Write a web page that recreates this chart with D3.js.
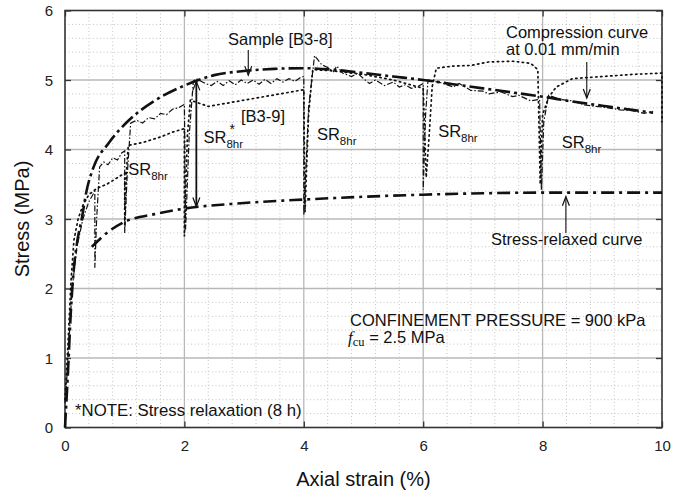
<!DOCTYPE html>
<html>
<head>
<meta charset="utf-8">
<script src="https://cdn.jsdelivr.net/npm/d3@7"></script>
<style>
  html, body { margin: 0; padding: 0; background: #fff; }
  svg { display: block; font-family: "Liberation Sans", Arial, sans-serif; }
</style>
</head>
<body>
<svg id="chart" width="685" height="495"></svg>
<script>
// Axis ranges and tick labels
const xTicks = [0, 2, 4, 6, 8, 10];
const yTicks = [0, 1, 2, 3, 4, 5, 6];

// Compression curve at 0.01 mm/min (envelope)
const compressionCurve = [
  [0, 0], [0.05, 0.8], [0.1, 1.7], [0.15, 2.3], [0.2, 2.65], [0.28, 3.0], [0.36, 3.4],
  [0.48, 3.75], [0.73, 4.09], [1.07, 4.42], [1.5, 4.7], [2.0, 4.92], [2.5, 5.07],
  [3.0, 5.13], [3.5, 5.16], [4.0, 5.17], [4.6, 5.14], [5.0, 5.1], [5.5, 5.05],
  [6.0, 5.0], [6.5, 4.94], [7.0, 4.88], [7.5, 4.82], [8.0, 4.76], [8.5, 4.69],
  [9.0, 4.63], [9.5, 4.57], [9.85, 4.53]
];

// Stress-relaxed curve
const relaxedCurve = [
  [0.45, 2.6], [0.7, 2.8], [1.0, 2.96], [1.5, 3.07], [2.0, 3.15], [3.0, 3.23],
  [4.0, 3.28], [5.0, 3.32], [6.0, 3.35], [7.0, 3.37], [8.0, 3.38], [9.0, 3.38], [10.0, 3.38]
];

// Sample [B3-8], with 8 h stress relaxation stages
const sampleB38 = [
  [0, 0.35], [0.03, 0.7], [0.07, 1.3], [0.12, 2.0], [0.2, 2.6], [0.3, 3.0], [0.4, 3.25],
  [0.5, 3.4], [0.5, 2.3], [0.53, 3.0], [0.58, 3.75], [0.65, 3.82], [0.72, 3.78], [0.8, 3.88],
  [0.88, 3.85], [0.95, 3.95], [1.0, 3.98], [1.0, 2.8], [1.04, 3.6], [1.1, 4.38], [1.2, 4.42],
  [1.3, 4.38], [1.4, 4.46], [1.5, 4.44], [1.6, 4.52], [1.7, 4.5], [1.8, 4.58], [1.9, 4.6],
  [2.0, 4.65], [2.02, 2.85], [2.08, 4.2], [2.15, 4.98], [2.2, 5.02], [2.35, 4.95], [2.45, 4.92],
  [2.55, 4.98], [2.65, 4.92], [2.75, 4.99], [2.85, 4.93], [2.95, 5.0], [3.05, 4.95], [3.15, 5.0],
  [3.25, 4.94], [3.35, 5.01], [3.45, 4.95], [3.55, 5.02], [3.65, 4.97], [3.75, 5.02], [3.85, 4.98],
  [3.95, 5.04], [4.0, 5.05], [4.0, 3.05], [4.08, 4.6], [4.18, 5.35], [4.3, 5.22], [4.4, 5.18],
  [4.5, 5.12], [4.55, 5.2], [4.65, 5.1], [4.8, 5.05], [4.9, 5.1], [5.0, 5.02], [5.1, 4.95],
  [5.2, 5.0], [5.35, 4.92], [5.5, 4.97], [5.6, 4.9], [5.7, 4.93], [5.8, 4.88], [5.9, 4.9],
  [6.0, 4.95], [6.0, 3.42], [6.04, 4.5], [6.08, 5.0], [6.3, 4.96], [6.5, 4.9], [6.6, 4.95],
  [6.8, 4.85], [7.0, 4.84], [7.1, 4.8], [7.3, 4.83], [7.5, 4.76], [7.6, 4.78], [7.8, 4.7],
  [7.95, 4.72], [7.98, 3.42], [8.02, 4.4], [8.1, 4.78], [8.3, 4.72], [8.5, 4.7], [8.7, 4.64],
  [8.9, 4.62], [9.1, 4.6], [9.3, 4.57], [9.5, 4.56], [9.7, 4.52], [9.85, 4.55]
];

// Sample [B3-9], with 8 h stress relaxation stages
const sampleB39 = [
  [0, 0.4], [0.05, 1.2], [0.1, 2.1], [0.15, 2.7], [0.22, 3.0], [0.3, 3.2], [0.4, 3.35],
  [0.53, 3.44], [0.7, 3.5], [0.85, 3.58], [1.0, 3.66], [1.0, 2.9], [1.03, 3.7], [1.06, 4.06],
  [1.3, 4.1], [1.6, 4.18], [1.8, 4.25], [2.0, 4.3], [2.0, 2.75], [2.05, 4.2], [2.1, 4.71],
  [2.4, 4.62], [2.8, 4.68], [3.2, 4.74], [3.6, 4.8], [4.0, 4.86], [4.02, 3.1], [4.08, 4.5],
  [4.15, 5.15], [4.5, 5.13], [5.0, 5.08], [5.5, 5.0], [6.0, 4.88], [6.05, 3.6], [6.1, 4.2],
  [6.15, 4.9], [6.22, 5.17], [6.5, 5.2], [6.8, 5.21], [7.1, 5.26], [7.5, 5.27], [7.8, 5.24],
  [7.92, 5.15], [7.96, 3.5], [8.0, 4.5], [8.1, 4.75], [8.23, 4.9], [8.5, 5.02], [9.0, 5.05],
  [9.5, 5.08], [10.0, 5.1], [10.0, 4.4]
];

// Relaxation stage labels (x, y in data units)
const srLabels = [
  { x: 1.06, y: 3.64, star: false },
  { x: 4.22, y: 4.13, star: false },
  { x: 6.25, y: 4.18, star: false },
  { x: 8.32, y: 4.02, star: false },
  { x: 2.32, y: 4.09, star: true }
];

// Annotation arrows: [x, yFrom, yTo], head drawn at yTo
const pointerArrows = [
  { x: 3.07, y0: 5.43, y1: 5.07 },
  { x: 8.74, y0: 5.26, y1: 4.74 },
  { x: 8.39, y0: 2.80, y1: 3.32 }
];
const srArrow = { x: 2.2, y0: 4.98, y1: 3.18 };

const svg = d3.select("#chart");
const x = d3.scaleLinear().domain([0, 10]).range([65, 662]);
const y = d3.scaleLinear().domain([0, 6]).range([427.5, 10.5]);
const [x0, x1] = x.range();
const [y0, y1] = y.range();

// Minor grid (dotted)
const gMinor = svg.append("g").attr("stroke", "#c4c4c4").attr("stroke-width", 1)
  .attr("stroke-dasharray", "1,2.5");
const xMinor = d3.range(0, 10.001, 0.4).filter(v => Math.abs(v / 2 - Math.round(v / 2)) > 1e-6);
const yMinor = d3.range(0, 6.001, 0.2).filter(v => Math.abs(v - Math.round(v)) > 1e-6);
gMinor.selectAll(".vx").data(xMinor).join("line")
  .attr("x1", d => x(d)).attr("x2", d => x(d)).attr("y1", y0).attr("y2", y1);
gMinor.selectAll(".hy").data(yMinor).join("line")
  .attr("x1", x0).attr("x2", x1).attr("y1", d => y(d)).attr("y2", d => y(d));

// Major grid
const gMajor = svg.append("g").attr("stroke", "#b8b8b8").attr("stroke-width", 1.3);
gMajor.selectAll(".mx").data(xTicks.slice(1, -1)).join("line")
  .attr("x1", d => x(d)).attr("x2", d => x(d)).attr("y1", y0).attr("y2", y1);
gMajor.selectAll(".my").data(yTicks.slice(1, -1)).join("line")
  .attr("x1", x0).attr("x2", x1).attr("y1", d => y(d)).attr("y2", d => y(d));

// Axes with inward ticks
const axisStyle = g => {
  g.select(".domain").remove();
  g.selectAll(".tick line").attr("stroke", "#333").attr("stroke-width", 1.3);
  g.selectAll(".tick text").attr("font-size", 15).attr("fill", "#222")
    .attr("font-family", "Liberation Sans, Arial, sans-serif");
};
svg.append("g").attr("transform", `translate(0,${y0})`)
  .call(d3.axisBottom(x).tickValues(xTicks).tickFormat(d3.format("d")).tickSizeInner(-6).tickPadding(13))
  .call(axisStyle);
svg.append("g").attr("transform", `translate(${x0},0)`)
  .call(d3.axisLeft(y).tickValues(yTicks).tickFormat(d3.format("d")).tickSizeInner(-6).tickPadding(12))
  .call(axisStyle)
  .call(g => g.selectAll(".tick text").attr("dy", "0.36em"));
svg.append("g").attr("transform", `translate(${x1},0)`)
  .call(d3.axisRight(y).tickValues(yTicks).tickFormat("").tickSizeInner(-6))
  .call(axisStyle);
svg.append("g").attr("transform", `translate(0,${y1})`)
  .call(d3.axisTop(x).tickValues(xTicks).tickFormat("").tickSizeInner(-6))
  .call(axisStyle);

// Plot frame
svg.append("rect").attr("x", x0).attr("y", y1).attr("width", x1 - x0).attr("height", y0 - y1)
  .attr("fill", "none").attr("stroke", "#333").attr("stroke-width", 1.6);

// Curves
const line = d3.line().x(d => x(d[0])).y(d => y(d[1]));
const smooth = d3.line().curve(d3.curveMonotoneX).x(d => x(d[0])).y(d => y(d[1]));
const plot = svg.append("g").attr("fill", "none").attr("stroke", "#111");
plot.append("path").datum(sampleB39).attr("d", line)
  .attr("stroke-width", 1.7).attr("stroke-dasharray", "1.4,3.6").attr("stroke-linecap", "round");
plot.append("path").datum(sampleB38).attr("d", line)
  .attr("stroke-width", 1.2).attr("stroke-dasharray", "6,2,1.5,2");
plot.append("path").datum(compressionCurve).attr("d", smooth)
  .attr("stroke-width", 2.6).attr("stroke-dasharray", "15,4,3,4");
plot.append("path").datum(relaxedCurve).attr("d", smooth)
  .attr("stroke-width", 2.6).attr("stroke-dasharray", "13,5,3,5");

// Open arrowhead at (px, py) pointing in direction dir (+1 down, -1 up)
function arrowHead(g, px, py, dir) {
  g.append("path")
    .attr("d", `M${px - 3.5},${py - dir * 9}L${px},${py}L${px + 3.5},${py - dir * 9}`)
    .attr("fill", "none").attr("stroke", "#111").attr("stroke-width", 1.2);
}
const ann = svg.append("g");
pointerArrows.forEach(a => {
  const px = x(a.x), p0 = y(a.y0), p1 = y(a.y1);
  ann.append("line").attr("x1", px).attr("x2", px).attr("y1", p0).attr("y2", p1)
    .attr("stroke", "#111").attr("stroke-width", 1.1);
  arrowHead(ann, px, p1, p1 > p0 ? 1 : -1);
});
{
  const px = x(srArrow.x), p0 = y(srArrow.y0), p1 = y(srArrow.y1);
  ann.append("line").attr("x1", px).attr("x2", px).attr("y1", p0).attr("y2", p1)
    .attr("stroke", "#111").attr("stroke-width", 1.8);
  arrowHead(ann, px, p0, -1);
  arrowHead(ann, px, p1, 1);
}

// Text annotations
const txt = svg.append("g").attr("fill", "#111").attr("font-size", 16.5);
txt.append("text").attr("x", 228).attr("y", 45).text("Sample [B3-8]");
txt.append("text").attr("x", 241).attr("y", 122).text("[B3-9]");
txt.append("text").attr("x", 506).attr("y", 38).text("Compression curve");
txt.append("text").attr("x", 506).attr("y", 55).text("at 0.01 mm/min");
txt.append("text").attr("x", 491).attr("y", 245).text("Stress-relaxed curve");
txt.append("text").attr("x", 350).attr("y", 326).text("CONFINEMENT PRESSURE = 900 kPa");
const fcu = txt.append("text").attr("x", 348).attr("y", 343);
fcu.append("tspan").attr("font-family", "Liberation Serif, Times New Roman, serif")
  .attr("font-style", "italic").attr("font-size", 17).text("f");
fcu.append("tspan").attr("font-family", "Liberation Serif, Times New Roman, serif")
  .attr("font-size", 12.5).attr("dy", 3).text("cu");
fcu.append("tspan").attr("dy", -3).text(" = 2.5 MPa");
txt.append("text").attr("x", 75).attr("y", 416).attr("font-size", 16.8).text("*NOTE: Stress relaxation (8 h)");

srLabels.forEach(s => {
  const t = txt.append("text").attr("x", x(s.x)).attr("y", y(s.y));
  t.append("tspan").text("SR");
  if (s.star) {
    const base = x(s.x) + 22;
    txt.append("text").attr("x", base + 4).attr("y", y(s.y) - 9).attr("font-size", 14).text("*");
  }
  t.append("tspan").attr("font-size", 11.5).attr("dy", 5).attr("dx", 0).text("8hr");
});

// Axis titles
svg.append("text").attr("x", (x0 + x1) / 2).attr("y", 486).attr("text-anchor", "middle")
  .attr("font-size", 20).attr("fill", "#111").text("Axial strain (%)");
svg.append("text").attr("transform", `translate(29,${(y0 + y1) / 2}) rotate(-90)`)
  .attr("text-anchor", "middle").attr("font-size", 20).attr("fill", "#111").text("Stress (MPa)");
</script>
</body>
</html>
